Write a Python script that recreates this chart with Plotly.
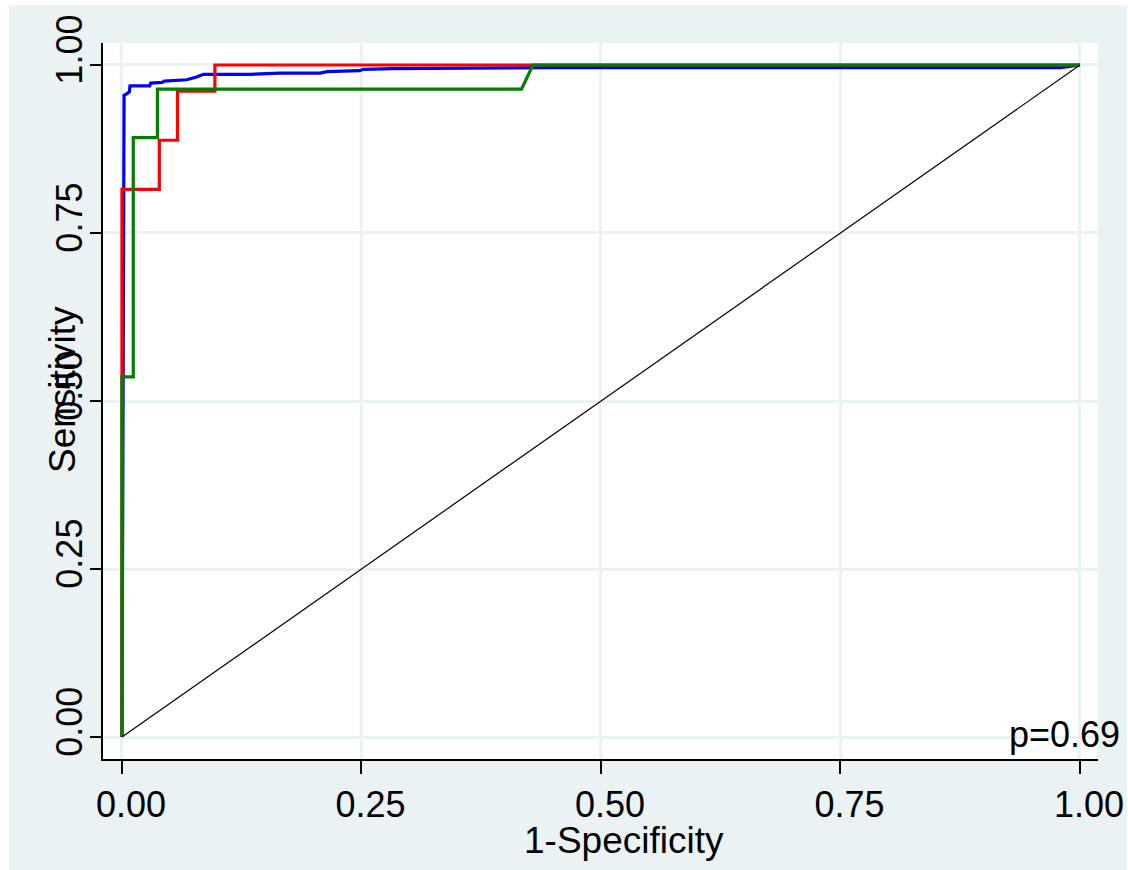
import plotly.graph_objects as go

# ---- data ----
tick_vals = [0, 0.25, 0.5, 0.75, 1.0]
tick_text = ["0.00", "0.25", "0.50", "0.75", "1.00"]

blue_x = [0, 0.0022, 0.005, 0.0077, 0.0084, 0.029, 0.030, 0.042, 0.044, 0.0675, 0.078, 0.085,
          0.134, 0.151, 0.165, 0.207, 0.214, 0.248, 0.252, 0.283, 0.45, 0.98, 1.0]
blue_y = [0, 0.955, 0.957, 0.960, 0.969, 0.969, 0.973, 0.974, 0.976, 0.978, 0.982, 0.986,
          0.986, 0.9876, 0.988, 0.988, 0.990, 0.9915, 0.9935, 0.9945, 0.996, 0.996, 1.0]

red_x = [0, 0, 0.039, 0.039, 0.058, 0.058, 0.097, 0.097, 1.0]
red_y = [0, 0.815, 0.815, 0.888, 0.888, 0.961, 0.961, 1.0, 1.0]

green_x = [0, 0, 0.0118, 0.0118, 0.037, 0.037, 0.417, 0.429, 1.0]
green_y = [0, 0.536, 0.536, 0.892, 0.892, 0.964, 0.964, 1.0, 1.0]

ref_x = [0, 1]
ref_y = [0, 1]

x_title = "1-Specificity"
y_title = "Sensitivity"
p_text = "p=0.69"

# ---- layout geometry ----
W, H = 1128, 870
L, R, T, B = 103, 1098, 43, 759
BG = "#EAF2F3"
FONT = "Liberation Sans, Arial, Helvetica, sans-serif"
FS = 36


def px2paper(px, py):
    return (px - L) / (R - L), (B - py) / (B - T)


fig = go.Figure()
fig.add_trace(go.Scatter(x=blue_x, y=blue_y, mode="lines", line=dict(color="#0000FF", width=3.2)))
fig.add_trace(go.Scatter(x=red_x, y=red_y, mode="lines", line=dict(color="#FF0000", width=3.2)))
fig.add_trace(go.Scatter(x=green_x, y=green_y, mode="lines", line=dict(color="#008000", width=3.2)))
fig.add_trace(go.Scatter(x=ref_x, y=ref_y, mode="lines", line=dict(color="#000000", width=1.2)))

axis_common = dict(
    tickvals=tick_vals, ticktext=tick_text, showgrid=True, gridcolor=BG, gridwidth=3,
    zeroline=False, showline=True, linecolor="#000000", linewidth=1.5,
    ticks="outside", tickcolor="#000000", tickwidth=1.5,
    tickfont=dict(family=FONT, size=FS, color="#000000"),
)

fig.update_xaxes(range=[-0.0198, 1.0188], ticklen=13, ticklabelshift=9, **axis_common)
fig.update_yaxes(range=[-0.0327, 1.0327], ticklen=11, tickangle=-90, ticklabelshift=-10,
                 ticklabelstandoff=-6, **axis_common)

annots = []
ax, ay = px2paper(624, 840)
annots.append(dict(text=x_title, x=ax, y=ay, xref="paper", yref="paper", showarrow=False,
                   xanchor="center", yanchor="middle", font=dict(family=FONT, size=37, color="#000")))
ax, ay = px2paper(62, 390)
annots.append(dict(text=y_title, x=ax, y=ay, xref="paper", yref="paper", showarrow=False, textangle=-90,
                   xanchor="center", yanchor="middle", font=dict(family=FONT, size=37, color="#000")))
ax, ay = px2paper(1122, 734)
annots.append(dict(text=p_text, x=ax, y=ay, xref="paper", yref="paper", showarrow=False,
                   xanchor="right", yanchor="middle", font=dict(family=FONT, size=FS, color="#000")))

# white border strips outside the grey graph region
shapes = []
for (x0, y0, x1, y1) in [(0, 0, 9, H), (0, 0, W, 5), (1127, 0, W, H)]:
    a0, b0 = px2paper(x0, y1)
    a1, b1 = px2paper(x1, y0)
    shapes.append(dict(type="rect", xref="paper", yref="paper", x0=a0, y0=b0, x1=a1, y1=b1,
                       fillcolor="white", line=dict(width=0), layer="below"))

fig.update_layout(
    width=W, height=H, autosize=False,
    margin=dict(l=L, r=W - R, t=T, b=H - B, autoexpand=False),
    paper_bgcolor=BG, plot_bgcolor="white",
    showlegend=False, annotations=annots, shapes=shapes,
    font=dict(family=FONT, size=FS, color="#000"),
)

fig.write_html(
    "out.html",
    config={"displayModeBar": False},
    post_script="document.body.style.margin='0';document.body.style.padding='0';"
                "document.documentElement.style.overflow='hidden';",
)
